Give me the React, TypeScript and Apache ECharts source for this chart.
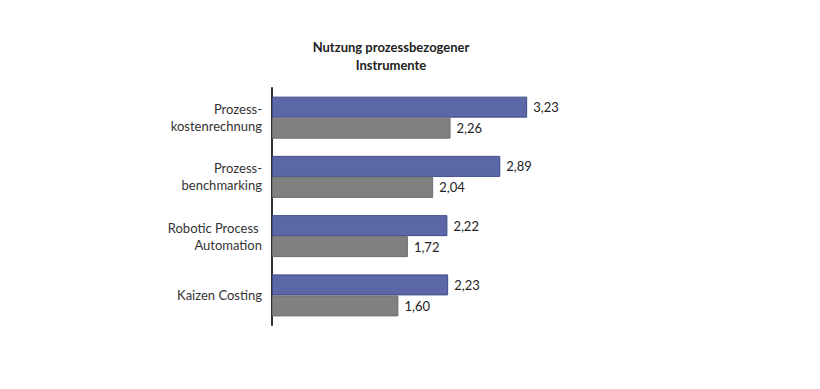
import React, { useEffect, useRef } from "react";
import * as echarts from "echarts";

const categories = [
  "Prozess-\nkostenrechnung",
  "Prozess-\nbenchmarking",
  "Robotic Process \nAutomation",
  "Kaizen Costing",
];
const seriesA = [3.23, 2.89, 2.22, 2.23];
const seriesB = [2.26, 2.04, 1.72, 1.6];

const fmt = (v: number) => v.toFixed(2).replace(".", ",");

export default function App() {
  const ref = useRef<HTMLDivElement>(null);
  useEffect(() => {
    const chart = echarts.init(ref.current!, null, { renderer: "svg" });
    const font = "Lato, 'Open Sans', sans-serif";
    chart.setOption({
      animation: false,
      title: {
        text: "Nutzung prozessbezogener\nInstrumente",
        left: 378,
        textAlign: "center",
        top: 25,
        textStyle: { fontFamily: font, fontSize: 13, fontWeight: "bold", color: "#222", lineHeight: 18 },
      },
      grid: { left: 264, top: 80, width: 316, height: 237 },
      xAxis: { type: "value", min: 0, max: 4, show: false },
      yAxis: {
        type: "category",
        data: categories,
        inverse: true,
        axisLine: { show: true, lineStyle: { color: "#333", width: 2 } },
        axisTick: { show: false },
        axisLabel: { fontFamily: font, fontSize: 13, color: "#333", margin: 10, lineHeight: 17, align: "right" },
      },
      series: [
        {
          type: "bar",
          data: seriesA,
          barWidth: 21,
          barGap: "0%",
          itemStyle: { color: "#5b67a6", borderColor: "#3f4c8a", borderWidth: 1 },
          label: { show: true, position: "right", distance: 6, formatter: (p: any) => fmt(p.value), fontFamily: font, fontSize: 13, color: "#222" },
        },
        {
          type: "bar",
          data: seriesB,
          barWidth: 21,
          barGap: "0%",
          itemStyle: { color: "#808080", borderColor: "#6e6e6e", borderWidth: 1 },
          label: { show: true, position: "right", distance: 6, formatter: (p: any) => fmt(p.value), fontFamily: font, fontSize: 13, color: "#222" },
        },
      ],
    });
    return () => chart.dispose();
  }, []);
  return <div ref={ref} style={{ width: 804, height: 373 }} />;
}
